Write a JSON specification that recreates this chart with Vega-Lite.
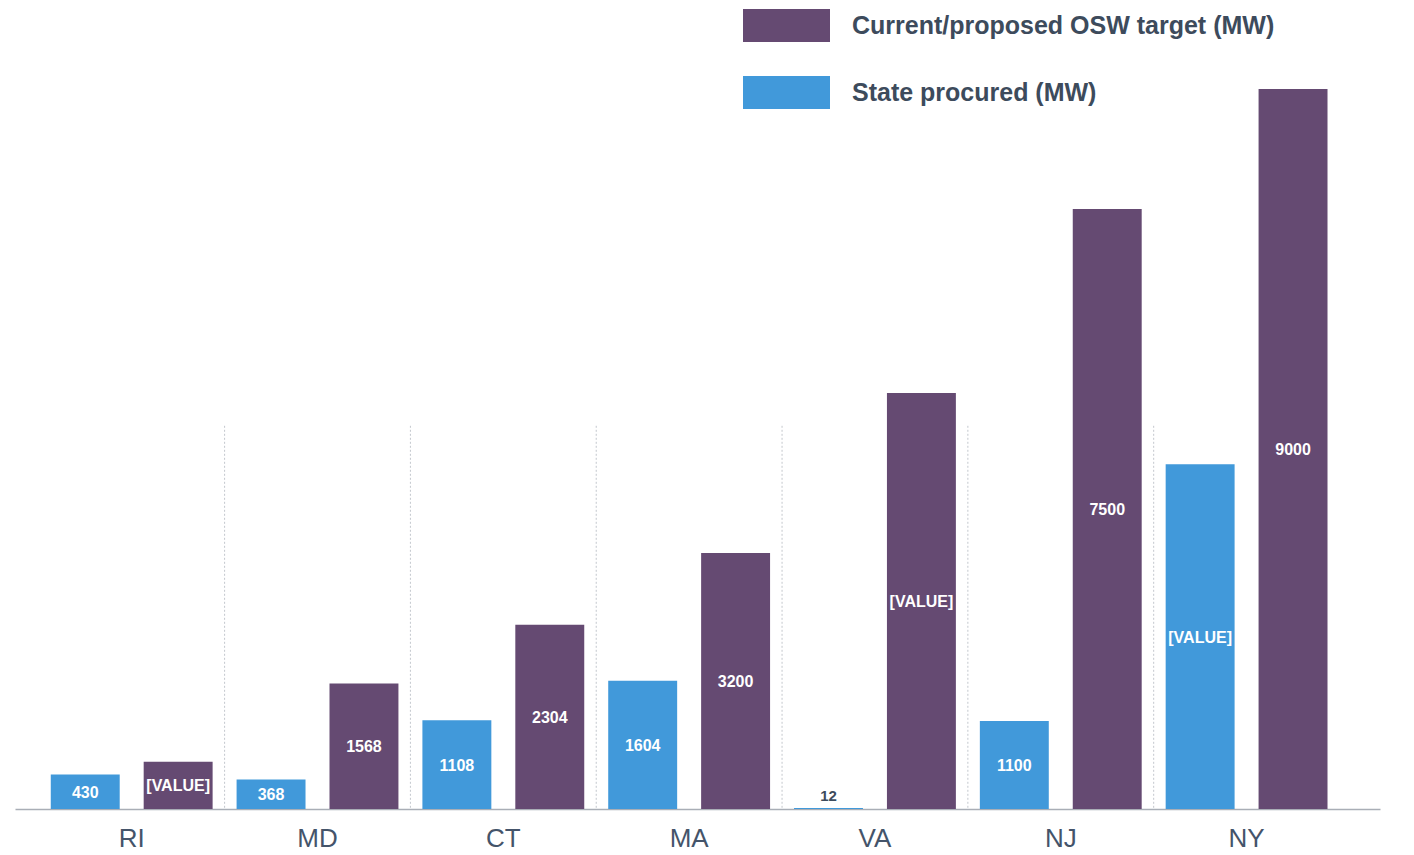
{
  "$schema": "https://vega.github.io/schema/vega-lite/v6.json",
  "width": 1365,
  "height": 720,
  "autosize": {"type": "none"},
  "padding": {"left": 15, "top": 89, "right": 34, "bottom": 46},
  "background": "white",
  "config": {"view": {"stroke": null}, "font": "Liberation Sans"},
  "data": {
    "values": [
      {"state": "RI", "series": "State procured (MW)", "value": 430, "label": "430"},
      {"state": "RI", "series": "Current/proposed OSW target (MW)", "value": 590, "label": "[VALUE]"},
      {"state": "MD", "series": "State procured (MW)", "value": 368, "label": "368"},
      {"state": "MD", "series": "Current/proposed OSW target (MW)", "value": 1568, "label": "1568"},
      {"state": "CT", "series": "State procured (MW)", "value": 1108, "label": "1108"},
      {"state": "CT", "series": "Current/proposed OSW target (MW)", "value": 2304, "label": "2304"},
      {"state": "MA", "series": "State procured (MW)", "value": 1604, "label": "1604"},
      {"state": "MA", "series": "Current/proposed OSW target (MW)", "value": 3200, "label": "3200"},
      {"state": "VA", "series": "State procured (MW)", "value": 12, "label": "12"},
      {"state": "VA", "series": "Current/proposed OSW target (MW)", "value": 5200, "label": "[VALUE]"},
      {"state": "NJ", "series": "State procured (MW)", "value": 1100, "label": "1100"},
      {"state": "NJ", "series": "Current/proposed OSW target (MW)", "value": 7500, "label": "7500"},
      {"state": "NY", "series": "State procured (MW)", "value": 4310, "label": "[VALUE]"},
      {"state": "NY", "series": "Current/proposed OSW target (MW)", "value": 9000, "label": "9000"}
    ]
  },
  "encoding": {
    "x": {
      "field": "state",
      "type": "nominal",
      "sort": ["RI", "MD", "CT", "MA", "VA", "NJ", "NY"],
      "scale": {"paddingInner": 0, "paddingOuter": 0.173, "align": 0.37},
      "axis": {
        "title": null,
        "labelAngle": 0,
        "ticks": false,
        "labelFontSize": 26,
        "labelColor": "#44546a",
        "labelPadding": 16,
        "domainColor": "#a9aeb6",
        "domainWidth": 1.5,
        "grid": false
      }
    }
  },
  "layer": [
    {
      "transform": [{"filter": "datum.series == 'State procured (MW)' && datum.state != 'RI'"}],
      "mark": {"type": "rule", "color": "#c3c7cd", "strokeWidth": 1, "strokeDash": [2, 2]},
      "encoding": {
        "x": {"field": "state", "type": "nominal", "bandPosition": 0, "sort": ["RI", "MD", "CT", "MA", "VA", "NJ", "NY"]},
        "y": {"datum": 4790, "type": "quantitative", "scale": {"domain": [0, 9000], "nice": false}, "axis": null},
        "y2": {"datum": 0}
      }
    },
    {
      "mark": {"type": "bar"},
      "encoding": {
        "xOffset": {
          "field": "series",
          "type": "nominal",
          "scale": {"domain": ["State procured (MW)", "Current/proposed OSW target (MW)"], "paddingInner": 0.258, "paddingOuter": 0.129}
        },
        "y": {"field": "value", "type": "quantitative", "scale": {"domain": [0, 9000], "nice": false}, "axis": null},
        "color": {
          "field": "series",
          "type": "nominal",
          "scale": {"domain": ["Current/proposed OSW target (MW)", "State procured (MW)"], "range": ["#654a72", "#4199da"]},
          "legend": {
            "title": null,
            "orient": "none",
            "legendX": 728,
            "legendY": -107,
            "symbolType": "M-1,-0.38H1V0.38H-1Z",
            "symbolSize": 7569,
            "symbolStrokeWidth": 0,
            "symbolOpacity": 1,
            "labelFont": "Liberation Sans",
            "labelFontSize": 25,
            "labelFontWeight": "bold",
            "labelColor": "#3d4b5c",
            "labelOffset": 22,
            "labelLimit": 600,
            "rowPadding": 6
          }
        }
      }
    },
    {
      "transform": [{"filter": "datum.value >= 100"}, {"calculate": "datum.value / 2", "as": "mid"}],
      "mark": {"type": "text", "color": "white", "fontWeight": "bold", "fontSize": 16, "baseline": "middle", "align": "center", "dy": 1},
      "encoding": {
        "xOffset": {"field": "series", "type": "nominal", "scale": {"domain": ["State procured (MW)", "Current/proposed OSW target (MW)"], "paddingInner": 0.258, "paddingOuter": 0.129}},
        "y": {"field": "mid", "type": "quantitative", "scale": {"domain": [0, 9000], "nice": false}, "axis": null},
        "text": {"field": "label"}
      }
    },
    {
      "transform": [{"filter": "datum.value < 100"}],
      "mark": {"type": "text", "color": "#3d4b5c", "fontWeight": "bold", "fontSize": 15, "baseline": "middle", "align": "center", "dy": -12},
      "encoding": {
        "xOffset": {"field": "series", "type": "nominal", "scale": {"domain": ["State procured (MW)", "Current/proposed OSW target (MW)"], "paddingInner": 0.258, "paddingOuter": 0.129}},
        "y": {"field": "value", "type": "quantitative", "scale": {"domain": [0, 9000], "nice": false}, "axis": null},
        "text": {"field": "label"}
      }
    }
  ]
}
